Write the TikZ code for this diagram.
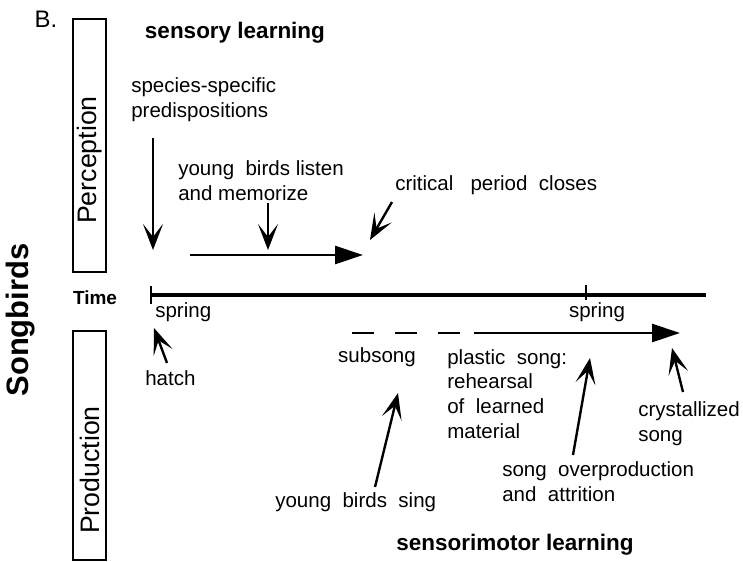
\documentclass[tikz,border=0pt]{standalone}
\usepackage{fontspec}
\setmainfont{Liberation Sans}
\usetikzlibrary{arrows.meta,positioning}

\begin{document}
\begin{tikzpicture}[
        every node/.style={font=\fontsize{14.6}{17.6}\selectfont, inner sep=0pt},
        head/.style={font=\fontsize{16}{19}\selectfont\bfseries},
        sidebox/.style={draw, line width=1.5pt, minimum width=0.825cm},
        sidetext/.style={rotate=90, font=\fontsize{19}{22}\selectfont},
        pointer/.style={-{Stealth[length=6.5mm,width=5mm,inset=3.2mm]}, line width=1.7pt},
        period/.style={-{Triangle[length=7mm,width=4.5mm]}, line width=2pt},
    ]
        \useasboundingbox (0,0) rectangle (18.575,-14.05);

        % Panel letter and species
        \node[font=\fontsize{17}{20}\selectfont] (panel) at (1.15,-0.47) {B.};
        \node[rotate=90, font=\fontsize{22}{26}\selectfont\bfseries] (songbirds) at (0.525,-8.0) {Songbirds};

        % Side boxes
        \node[sidebox, minimum height=6.325cm] (percbox) at (2.2375,-3.6375) {};
        \node[sidetext] (perc) at (2.25,-4.0) {Perception};
        \node[sidebox, minimum height=5.725cm] (prodbox) at (2.2375,-11.1375) {};
        \node[sidetext] (prod) at (2.25,-11.75) {Production};

        % Time axis
        \node[font=\fontsize{13.5}{16}\selectfont\bfseries] (time) at (2.375,-7.45) {Time};
        \coordinate (t0) at (3.75,-7.375);
        \coordinate (t1) at (17.65,-7.375);
        \draw[line width=2.8pt] (t0) -- (t1);
        \draw[line width=1.4pt] (3.775,-7.15) -- (3.775,-7.6);
        \draw[line width=1pt] (14.65,-7.125) -- (14.65,-7.5);
        \node[anchor=west] (spring1) at (3.875,-7.8) {spring};
        \node (spring2) at (14.925,-7.8) {spring};

        % Sensory learning
        \node[head] (sensory) at (5.875,-0.825) {sensory learning};
        \node[anchor=west, align=left] (predisp) at (3.275,-2.49)
              {species-specific\\predispositions};
        \node[anchor=west, align=left] (listen) at (4.45,-4.51)
              {young\ \ birds listen\\and memorize};
        \node[anchor=west] (closes) at (9.875,-4.625)
              {critical\ \ \ period\ \ closes};

        % Sensorimotor learning
        \node[anchor=west] (hatch) at (3.625,-9.45) {hatch};
        \node (subsong) at (9.425,-8.925) {subsong};
        \node[anchor=west, align=left] (plastic) at (11.175,-9.85)
              {plastic\ \ song:\\rehearsal\\of\ \ learned\\material};
        \node[anchor=west, align=left] (crystal) at (15.95,-10.6)
              {crystallized\\song};
        \node[anchor=west, align=left] (overprod) at (12.55,-12.04)
              {song\ \ overproduction\\and\ \ attrition};
        \node[anchor=west] (sing) at (6.875,-12.55) {young\ \ birds\ \ sing};
        \node[head] (motor) at (12.875,-13.625) {sensorimotor learning};

        % Arrow ends
        \coordinate (predtop) at (3.825,-3.45);
        \coordinate (predtip) at (3.825,-6.25);
        \coordinate (memtop) at (6.7,-5.075);
        \coordinate (memtip) at (6.7,-6.25);
        \coordinate (closetail) at (9.8,-5.05);
        \coordinate (closetip) at (9.25,-6.0);
        \coordinate (listen0) at (4.75,-6.375);
        \coordinate (listen1) at (9.075,-6.375);
        \coordinate (hatchtail) at (4.175,-9.075);
        \coordinate (hatchtip) at (3.85,-8.2);
        \coordinate (sub0) at (8.8,-8.325);
        \coordinate (sub1) at (11.5,-8.325);
        \coordinate (plastic0) at (11.85,-8.325);
        \coordinate (plastic1) at (17.0,-8.325);
        \coordinate (singtail) at (9.375,-12.175);
        \coordinate (singtip) at (9.95,-9.825);
        \coordinate (overtail) at (14.325,-11.375);
        \coordinate (overtip) at (14.75,-8.95);
        \coordinate (crysttail) at (17.075,-9.8);
        \coordinate (crysttip) at (16.8,-8.7);

        % Arrows
        \draw[pointer] (predtop) -- (predtip);
        \draw[pointer] (memtop) -- (memtip);
        \draw[pointer] (closetail) -- (closetip);
        \draw[period] (listen0) -- (listen1);
        \draw[pointer] (hatchtail) -- (hatchtip);
        \draw[line width=2pt, dash pattern=on 0.55cm off 0.525cm] (sub0) -- (sub1);
        \draw[period] (plastic0) -- (plastic1);
        \draw[pointer] (singtail) -- (singtip);
        \draw[pointer] (overtail) -- (overtip);
        \draw[pointer] (crysttail) -- (crysttip);
    \end{tikzpicture}
\end{document}
